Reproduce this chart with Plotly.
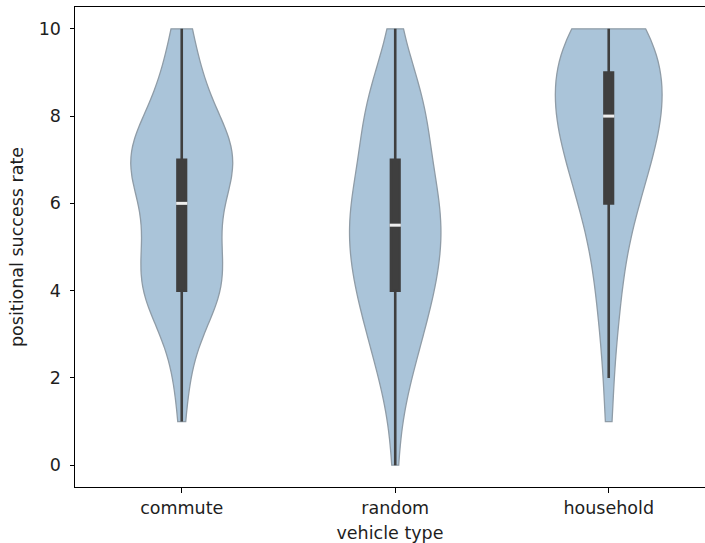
import numpy as np
import plotly.graph_objects as go

# ---- data (integer scores 0..10 and how many observations each category has at each score)
categories = ["commute", "random", "household"]
scores = [0, 1, 2, 3, 4, 5, 6, 7, 8, 9, 10]
commute_counts = [0, 1, 2, 4, 14, 10, 9, 19, 9, 5, 3]
random_counts = [1, 1, 4, 7, 10, 12, 12, 8, 9, 5, 1]
household_counts = [0, 1, 1, 2, 3, 4, 7, 10, 13, 13, 11]
y_ticks = [0, 2, 4, 6, 8, 10]

FILL = "#aac4d9"
EDGE = "#8f9ca7"
BOX = "#3f3f3f"
FONT = "DejaVu Sans"
TXT = "#1e1e1e"
MAX_WIDTH = 0.5      # width of the widest violin (category units)
BOX_WIDTH = 0.04     # absolute inner-box width (category units)

samples = []
for counts in [commute_counts, random_counts, household_counts]:
    vals = np.repeat(scores, counts).astype(float)
    bw = vals.std(ddof=1) * len(vals) ** (-1 / 5)  # Scott's rule
    grid = np.linspace(vals.min(), vals.max(), 600)
    dens = np.exp(-0.5 * ((grid[:, None] - vals[None, :]) / bw) ** 2).sum(1)
    dens /= len(vals) * bw * np.sqrt(2 * np.pi)
    samples.append((vals, bw, dens.max()))
peak_max = max(s[2] for s in samples)

fig = go.Figure()
for cat, (vals, bw, peak) in zip(categories, samples):
    w = MAX_WIDTH * peak / peak_max  # area-normalised violins
    fig.add_trace(go.Violin(
        x=[cat] * len(vals), y=vals, name=cat,
        width=w, scalemode="width", spanmode="hard",
        bandwidth=bw, points="outliers",
        marker=dict(opacity=0, size=1),
        fillcolor=FILL, opacity=1,
        line=dict(color=EDGE, width=1.3),
        box=dict(visible=True, width=BOX_WIDTH / w, fillcolor=BOX,
                 line=dict(color=BOX, width=2.6)),
        meanline=dict(visible=False),
        showlegend=False, hoverinfo="skip",
    ))
    fig.add_trace(go.Scatter(
        x=[cat], y=[float(np.median(vals))], mode="markers",
        marker=dict(symbol="line-ew", size=8, color="#eeeeee",
                    line=dict(color="#eeeeee", width=3)),
        showlegend=False, hoverinfo="skip",
    ))

fig.update_layout(
    width=705, height=543,
    margin=dict(l=75, r=0, t=7, b=56, pad=0),
    paper_bgcolor="white", plot_bgcolor="white",
    font=dict(family=FONT, size=17.5, color=TXT),
    violinmode="overlay",
)
fig.update_xaxes(
    type="category", categoryorder="array", categoryarray=categories,
    range=[-0.5, 2.451], showgrid=False, zeroline=False, automargin=False,
    showline=True, linecolor="black", linewidth=1, mirror=True,
    ticks="outside", ticklen=4.5, tickwidth=1, tickcolor="black",
    title=dict(text="vehicle type", standoff=10, font=dict(size=17.5)),
)
fig.update_yaxes(
    range=[-0.5, 10.5], tickvals=y_ticks, showgrid=False, zeroline=False,
    automargin=False,
    showline=True, linecolor="black", linewidth=1, mirror=False,
    ticks="outside", ticklen=4.5, tickwidth=1, tickcolor="black",
    ticklabelstandoff=5,
    title=dict(text="positional success rate", standoff=10, font=dict(size=17.5)),
)

# remove the browser's default 8px body margin so the figure fills the window exactly
fig.write_html(
    "out.html",
    config={"displayModeBar": False},
    post_script="document.body.style.margin='0';document.body.style.overflow='hidden';",
)
